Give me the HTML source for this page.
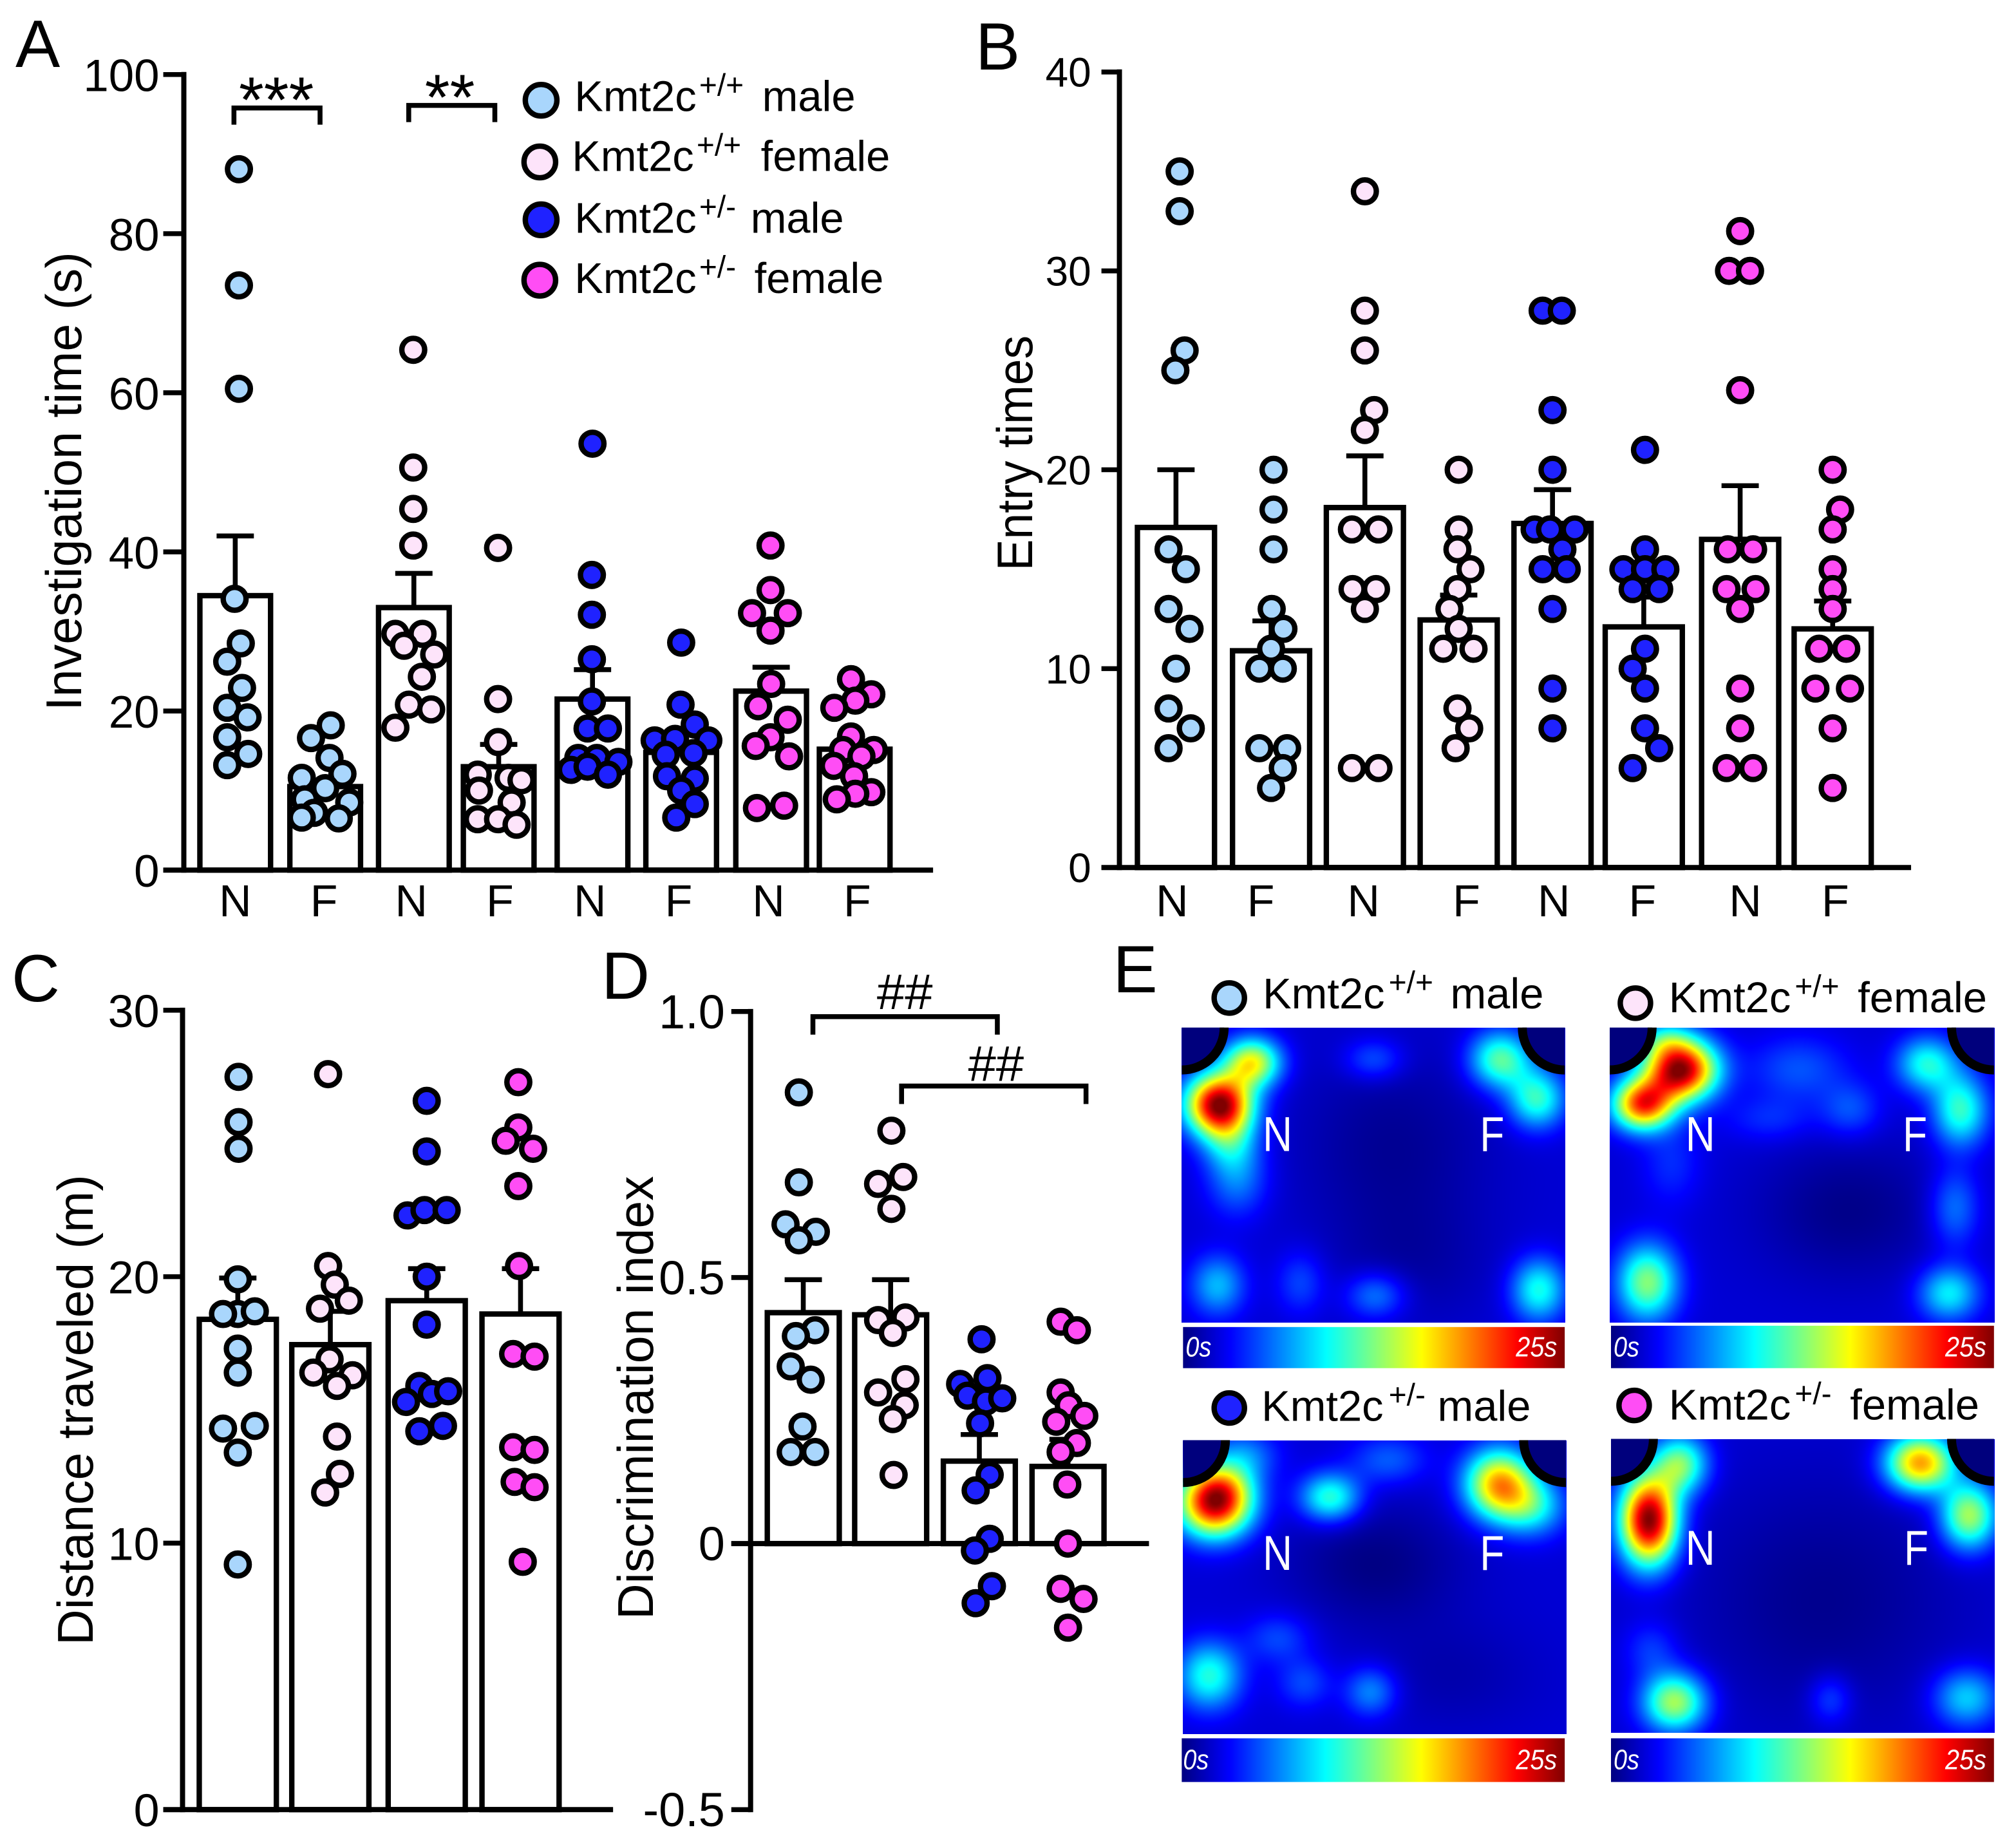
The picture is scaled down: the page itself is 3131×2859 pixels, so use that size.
<!DOCTYPE html>
<html lang="en">
<head>
<meta charset="utf-8">
<title>Kmt2c social novelty figure</title>
<style>
html,body{margin:0;padding:0;background:#fff;}
#figure{position:relative;width:3131px;height:2859px;overflow:hidden;background:#fff;}
#figure canvas{position:absolute;display:block;}
#figure svg{position:absolute;left:0;top:0;}
text{font-family:"Liberation Sans",Arial,sans-serif;fill:#000;}
</style>
</head>
<body>
<div id="figure">
<canvas id="map0" width="596" height="458" style="left:1835px;top:1596px"></canvas>
<canvas id="map1" width="598" height="458" style="left:2500px;top:1596px"></canvas>
<canvas id="map2" width="596" height="456" style="left:1837px;top:2237px"></canvas>
<canvas id="map3" width="596" height="456" style="left:2502px;top:2235px"></canvas>

<svg id="chart" width="3131" height="2859" viewBox="0 0 1568.6 1432.4" xmlns="http://www.w3.org/2000/svg">
<defs>
<linearGradient id="jet" x1="0" x2="1" y1="0" y2="0">
<stop offset="0" stop-color="#000080"/><stop offset="0.125" stop-color="#0000ff"/><stop offset="0.375" stop-color="#00ffff"/><stop offset="0.625" stop-color="#ffff00"/><stop offset="0.875" stop-color="#ff0000"/><stop offset="1" stop-color="#800000"/>
</linearGradient>
</defs>

<g id="panelA"></g>
<g id="panelB"></g>
<g id="panelC"></g>
<g id="panelD"></g>
<g id="arcs" transform="translate(1.5,1.5)"></g>

<g font-size="52">
<text x="12" y="52">A</text>
<text x="759" y="54">B</text>
<text x="9" y="779">C</text>
<text x="468" y="777">D</text>
<text x="866" y="772">E</text>
</g>

<g font-size="39">
<text transform="translate(63,553) rotate(-90)" textLength="357" lengthAdjust="spacingAndGlyphs">Investigation time (s)</text>
<text transform="translate(803,444) rotate(-90)" textLength="183" lengthAdjust="spacingAndGlyphs">Entry times</text>
<text transform="translate(72,1280) rotate(-90)" textLength="366" lengthAdjust="spacingAndGlyphs">Distance traveled (m)</text>
<text transform="translate(508,1260) rotate(-90)" textLength="345" lengthAdjust="spacingAndGlyphs">Discrimination index</text>
</g>

<g fill="none" stroke="#000" stroke-width="3.8">
<path d="M182 97V84H249V97"/>
<path d="M318 95V82H385V95"/>
<path d="M632.5 805V791H776V805"/>
<path d="M701.5 859V845H845V859"/>
</g>
<g text-anchor="middle">
<text x="215" y="95" font-size="50">***</text>
<text x="350" y="93" font-size="50">**</text>
<text x="704" y="785" font-size="39">##</text>
<text x="775" y="841" font-size="39">##</text>
</g>

<g font-size="33.5">
<g>
<circle cx="421" cy="78" r="12.3" fill="#a9d6fc" stroke="#000" stroke-width="4.2"/>
<text y="86.5"><tspan x="447">Kmt2c</tspan><tspan x="544" y="74.5" font-size="24">+/+</tspan><tspan x="593" y="86.5">male</tspan></text>
</g>
<g>
<circle cx="420" cy="126" r="12.3" fill="#fde4fa" stroke="#000" stroke-width="4.2"/>
<text y="133"><tspan x="445">Kmt2c</tspan><tspan x="542" y="121" font-size="24">+/+</tspan><tspan x="592" y="133">female</tspan></text>
</g>
<g>
<circle cx="421" cy="171" r="12.3" fill="#1f22ff" stroke="#000" stroke-width="4.2"/>
<text y="181"><tspan x="447">Kmt2c</tspan><tspan x="544" y="169" font-size="24">+/-</tspan><tspan x="584" y="181">male</tspan></text>
</g>
<g>
<circle cx="420" cy="218" r="12.3" fill="#ff4df5" stroke="#000" stroke-width="4.2"/>
<text y="228"><tspan x="447">Kmt2c</tspan><tspan x="544" y="216" font-size="24">+/-</tspan><tspan x="587" y="228">female</tspan></text>
</g>
</g>

<g font-size="33.5" transform="translate(1.5,1.5)">
<g>
<circle cx="955" cy="775" r="11.8" fill="#a9d6fc" stroke="#000" stroke-width="4.2"/>
<text><tspan x="981" y="783">Kmt2c</tspan><tspan x="1079" y="771" font-size="24">+/+</tspan><tspan x="1127" y="783">male</tspan></text>
</g>
<g>
<circle cx="1271" cy="779" r="11.8" fill="#fde4fa" stroke="#000" stroke-width="4.2"/>
<text><tspan x="1297" y="786">Kmt2c</tspan><tspan x="1395" y="774" font-size="24">+/+</tspan><tspan x="1444" y="786">female</tspan></text>
</g>
<g>
<circle cx="955" cy="1094" r="11.8" fill="#1f22ff" stroke="#000" stroke-width="4.2"/>
<text><tspan x="980" y="1104">Kmt2c</tspan><tspan x="1079" y="1092" font-size="24">+/-</tspan><tspan x="1117" y="1104">male</tspan></text>
</g>
<g>
<circle cx="1270" cy="1092" r="11.8" fill="#ff4df5" stroke="#000" stroke-width="4.2"/>
<text><tspan x="1297" y="1103">Kmt2c</tspan><tspan x="1395" y="1091" font-size="24">+/-</tspan><tspan x="1438" y="1103">female</tspan></text>
</g>
</g>

<g font-size="38" transform="translate(1.5,1.5)">
<text x="981" y="894" textLength="23" lengthAdjust="spacingAndGlyphs" style="fill:#fff">N</text>
<text x="1150" y="894" textLength="19" lengthAdjust="spacingAndGlyphs" style="fill:#fff">F</text>
<text x="1310" y="894" textLength="23" lengthAdjust="spacingAndGlyphs" style="fill:#fff">N</text>
<text x="1479" y="894" textLength="19" lengthAdjust="spacingAndGlyphs" style="fill:#fff">F</text>
<text x="981" y="1220" textLength="23" lengthAdjust="spacingAndGlyphs" style="fill:#fff">N</text>
<text x="1150" y="1220" textLength="19" lengthAdjust="spacingAndGlyphs" style="fill:#fff">F</text>
<text x="1310" y="1216" textLength="23" lengthAdjust="spacingAndGlyphs" style="fill:#fff">N</text>
<text x="1480" y="1216" textLength="19" lengthAdjust="spacingAndGlyphs" style="fill:#fff">F</text>
</g>

<g transform="translate(1.5,1.5)">
<rect x="919" y="1031" width="297" height="32" fill="url(#jet)"/>
<rect x="1252" y="1030" width="298" height="33" fill="url(#jet)"/>
<rect x="918" y="1351" width="298" height="34" fill="url(#jet)"/>
<rect x="1252" y="1351" width="298" height="34" fill="url(#jet)"/>
<g font-size="22" font-style="italic">
<text x="921" y="1054" textLength="20" lengthAdjust="spacingAndGlyphs" style="fill:#fff">0s</text>
<text x="1178" y="1054" textLength="32" lengthAdjust="spacingAndGlyphs" style="fill:#fff">25s</text>
<text x="1254" y="1054" textLength="20" lengthAdjust="spacingAndGlyphs" style="fill:#fff">0s</text>
<text x="1512" y="1054" textLength="32" lengthAdjust="spacingAndGlyphs" style="fill:#fff">25s</text>
<text x="919" y="1375" textLength="20" lengthAdjust="spacingAndGlyphs" style="fill:#fff">0s</text>
<text x="1178" y="1375" textLength="32" lengthAdjust="spacingAndGlyphs" style="fill:#fff">25s</text>
<text x="1254" y="1375" textLength="20" lengthAdjust="spacingAndGlyphs" style="fill:#fff">0s</text>
<text x="1512" y="1375" textLength="32" lengthAdjust="spacingAndGlyphs" style="fill:#fff">25s</text>
</g>
</g>
</svg>
</div>

<script>
/* ---------- Panel A: investigation time ---------- */
const panelACategories = ['N','F','N','F','N','F','N','F'];
const panelATicks = [0,20,40,60,80,100];
const panelAMeans = [34.5,10.5,33,13,21.5,14.8,22.5,15.2];
const panelASem = [42,10.5,37.3,15.8,25.2,14.8,25.5,15.2];
const panelAValues = [
  [88.1,73.5,60.5,34.1,28.5,26.2,22.9,20.4,19.2,16.7,14.6,13.2],
  [18.2,16.6,14.1,12.1,11.6,10.3,8.5,8.9,7.2,6.6,6.5],
  [65.4,50.6,45.4,40.8,29.7,29.7,28.2,27.1,24.3,20.8,20.2,17.9],
  [40.5,21.5,16.1,12,11.6,11.3,10,8.5,6.4,6.4,5.7],
  [53.6,37.1,32.1,26.5,21.2,17.8,17.8,14.1,14.1,13.6,12.6,13,12],
  [28.6,20.8,18.3,16.3,16.3,16.5,14.7,14.5,11.8,11.5,10,8.3,6.6],
  [40.8,35.2,32.3,32.3,30.1,23.4,20.6,18.9,16.7,15.6,14.3,7.8,8.1],
  [24,22.1,21.3,20.4,16.8,15.1,15.1,14.3,13.1,11.8,9.8,9.6,8.9]
];
const panelASwarm = [
  [6,6,6,-1,9,-13,11,-13,20,-13,21,-13],
  [9,-23,7,28,-38,0,39,-33,-18,-38,22],
  [-1,-1,-1,-1,-30,14,-16,33,13,-8,28,-30],
  [-1,-1,-1,-34,16,37,-32,21,-34,-1,29],
  [0,-1,-1,-1,-1,-8,25,-23,7,42,-35,-8,25],
  [0,-1,22,44,-43,-10,20,-25,-23,22,0,22,-8],
  [-1,-1,-31,27,-1,0,-21,27,-1,-25,29,-23,21],
  [-6,27,1,-33,-6,-19,31,11,-34,-1,27,1,-29]
];

/* ---------- Panel B: entry times ---------- */
const panelBCategories = ['N','F','N','F','N','F','N','F'];
const panelBTicks = [0,10,20,30,40];
const panelBMeans = [17.1,10.9,18.1,12.45,17.3,12.1,16.5,12];
const panelBSem = [20,12.4,20.7,13.7,19,13.6,19.2,13.4];
const panelBValues = [
  [35,33,26,25,16,15,13,12,10,8,7,6],
  [20,18,16,13,12,11,10,10,6,6,5,4],
  [34,28,26,23,22,17,17,14,14,13,5,5],
  [20,17,16,15,14,13,12,11,11,8,7,6],
  [28,28,23,20,17,17,17,16,15,15,13,9,7],
  [21,16,15,15,15,14,14,11,10,9,7,6,5],
  [32,30,30,24,16,16,14,14,13,9,7,5,5],
  [20,18,17,15,14,13,11,11,9,9,7,4]
];
const panelBSwarm = [
  [6,6,14,-1,-12,16,-12,22,0,-12,24,-12],
  [4,4,4,1,20,0,-19,19,-19,26,19,0],
  [0,0,0,15,0,-21,22,-20,18,0,-21,22],
  [0,0,-2,19,-2,-15,0,-25,24,-2,17,-5],
  [-16,15,0,0,-29,-4,36,16,-16,23,0,0,0],
  [2,2,-33,2,35,-18,25,2,-18,2,2,25,-18],
  [0,-18,16,0,-20,21,-22,25,0,0,0,-22,21],
  [0,12,0,0,0,0,-22,22,-28,28,0,0]
];

/* ---------- Panel C: distance traveled ---------- */
const panelCTicks = [0,10,20,30];
const panelCMeans = [18.4,17.45,19.1,18.6];
const panelCSem = [19.95,18.7,20.3,20.3];
const panelCValues = [
  [27.5,25.8,24.8,19.9,18.6,18.7,18.6,17.3,16.4,14.3,14.4,13.4,9.2],
  [27.6,20.4,19.7,19.1,18.8,16.9,16.4,16.3,15.9,14,12.6,11.9],
  [26.6,24.7,22.3,22.5,22.5,20,18.2,15.9,15.3,15.6,15.7,14.2,14.4],
  [27.3,25.6,25.1,24.8,23.4,20.4,17.1,17,13.6,13.5,12.3,12.1,9.3]
];
const panelCSwarm = [
  [1,1,1,0,0,23,-20,0,0,-20,23,0,0],
  [-3,-3,6,25,-14,-1,-23,30,9,9,13,-7],
  [0,0,-26,-3,27,0,0,-10,-28,7,29,-10,22],
  [-3,-3,-20,17,-3,-2,-10,19,-10,19,-8,19,3]
];

/* ---------- Panel D: discrimination index ---------- */
const panelDTicks = [-0.5,0,0.5,1];
const panelDTickLabels = ['-0.5','0','0.5','1.0'];
const panelDMeans = [0.434,0.43,0.155,0.145];
const panelDSem = [0.496,0.496,0.205,0.196];
const panelDValues = [
  [0.848,0.679,0.6,0.586,0.57,0.401,0.39,0.333,0.308,0.22,0.172,0.172],
  [0.776,0.689,0.676,0.629,0.425,0.42,0.396,0.309,0.284,0.26,0.234,0.129],
  [0.384,0.3,0.311,0.278,0.267,0.273,0.226,0.129,0.1,0.009,-0.013,-0.08,-0.112],
  [0.417,0.401,0.284,0.26,0.24,0.229,0.189,0.172,0.111,0,-0.085,-0.104,-0.158]
];
const panelDSwarm = [
  [-6,-6,-24,17,-6,16,-10,-17,10,-1,-17,16],
  [1,17,-17,1,20,-17,3,20,-17,19,3,4],
  [3,-26,11,-16,9,31,1,14,-5,14,-6,17,-5],
  [-10,12,-10,1,22,-16,12,-10,-1,0,-10,21,0]
];

/* ---------- Panel E: hotspots [u, v, spreadU, spreadV, peak] ---------- */
const mapWildtypeMale = [
  [0.097,0.259,0.06,0.072,0.9],[0.183,0.117,0.052,0.058,0.52],[0.145,0.51,0.055,0.09,0.16],[0.125,0.385,0.05,0.07,0.2],
  [0.83,0.107,0.056,0.068,0.38],[0.925,0.24,0.052,0.07,0.34],[0.5,0.107,0.055,0.05,0.13],
  [0.093,0.873,0.05,0.072,0.22],[0.31,0.863,0.045,0.075,0.11],[0.505,0.907,0.055,0.055,0.17],[0.93,0.888,0.05,0.075,0.31],
  [0.55,0.4,0.18,0.24,-0.065],[0.6,0.8,0.15,0.15,-0.04]
];
const mapWildtypeFemale = [
  [0.183,0.141,0.065,0.072,0.9],[0.085,0.259,0.055,0.06,0.72],[0.14,0.04,0.05,0.045,0.18],
  [0.823,0.122,0.055,0.065,0.31],[0.91,0.278,0.05,0.085,0.34],[0.49,0.14,0.09,0.08,0.12],[0.625,0.278,0.055,0.065,0.12],[0.415,0.31,0.08,0.055,0.08],
  [0.895,0.61,0.045,0.095,0.16],[0.097,0.863,0.055,0.09,0.42],[0.88,0.9,0.055,0.065,0.28],[0.16,0.46,0.055,0.1,0.08],
  [0.62,0.62,0.17,0.17,-0.075]
];
const mapHetMale = [
  [0.083,0.209,0.066,0.08,0.88],[0.11,0.15,0.05,0.05,0.1],[0.383,0.193,0.055,0.058,0.34],[0.534,0.066,0.07,0.06,0.13],
  [0.824,0.148,0.062,0.082,0.62],[0.91,0.224,0.06,0.07,0.27],[0.068,0.8,0.058,0.08,0.32],[0.248,0.672,0.06,0.06,0.11],
  [0.316,0.825,0.05,0.06,0.11],[0.489,0.855,0.048,0.06,0.18],[0.16,0.05,0.06,0.06,0.16],
  [0.5,0.42,0.16,0.15,-0.08],[0.7,0.8,0.16,0.14,-0.04]
];
const mapHetFemale = [
  [0.098,0.274,0.052,0.105,0.92],[0.18,0.085,0.05,0.07,0.4],[0.805,0.08,0.062,0.068,0.64],[0.932,0.259,0.052,0.08,0.46],
  [0.165,0.895,0.058,0.07,0.46],[0.571,0.885,0.04,0.06,0.12],[0.925,0.88,0.06,0.07,0.25],[0.105,0.717,0.05,0.07,0.1],
  [0.55,0.55,0.25,0.3,-0.07]
];
const mapBackground = 0.085;

/* ---------- Layout (pixel geometry lives here, not with the data) ---------- */
const NS = 'http://www.w3.org/2000/svg';
const lightBlue = '#a9d6fc', palePink = '#fde4fa', strongBlue = '#1f22ff', magenta = '#ff4df5';
const panelALayout = {root:'panelA',axisX:143,tickX:127,xEnd:726,yTopPx:58,yBottomPx:677,min:0,max:100,baseline:0,barWidth:55,capWidth:29,swarmStep:0.48,
  centers:[183,253,322,388,461,530,600,665],labelX:[183,252,320,389,459,528,598,667],tickFont:35.5,tickRight:124,tickShift:13,
  colors:[lightBlue,lightBlue,palePink,palePink,strongBlue,strongBlue,magenta,magenta]};
const panelBLayout = {root:'panelB',axisX:871,tickX:857,xEnd:1487,yTopPx:56,yBottomPx:675,min:0,max:40,baseline:0,barWidth:60,capWidth:29,swarmStep:0.48,
  centers:[915,989,1062,1135,1208,1279,1354,1426],labelX:[912,981,1061,1141,1209,1278,1358,1428],tickFont:32,tickRight:849,tickShift:11.5,
  colors:[lightBlue,lightBlue,palePink,palePink,strongBlue,strongBlue,magenta,magenta]};
const panelCLayout = {root:'panelC',axisX:142,tickX:127,xEnd:477,yTopPx:786,yBottomPx:1408,min:0,max:30,baseline:0,barWidth:60,capWidth:29,swarmStep:0.575,
  centers:[185,257,332,405],labelX:null,tickFont:36,tickRight:124,tickShift:13,
  colors:[lightBlue,palePink,strongBlue,magenta]};
const panelDLayout = {root:'panelD',axisX:584,tickX:569,xEnd:894,yTopPx:787,yBottomPx:1408,min:-0.5,max:1,baseline:0,barWidth:56,capWidth:29,swarmStep:0.575,
  centers:[625,693,762,831],labelX:null,tickFont:37,tickRight:564,tickShift:13,
  colors:[lightBlue,palePink,strongBlue,magenta]};

function svgEl(tag,parent){
  const e=document.createElementNS(NS,tag);
  parent.appendChild(e);
  return e;
}

function drawPanel(layout,categories,ticks,tickLabels,means,sem,values,swarm){
  const root=document.getElementById(layout.root);
  const yScale=v=>layout.yBottomPx-(v-layout.min)/(layout.max-layout.min)*(layout.yBottomPx-layout.yTopPx);
  const base=yScale(layout.baseline);

  means.forEach((m,i)=>{
    const cx=layout.centers[i];
    const bar=svgEl('rect',root);
    
    
    bar.setAttribute('x',cx-layout.barWidth/2);
    bar.setAttribute('width',layout.barWidth);
    bar.setAttribute('y',Math.min(yScale(m),base));
    bar.setAttribute('height',Math.abs(base-yScale(m)));
    bar.setAttribute('fill','#fff');
    bar.setAttribute('stroke','#000');
    bar.setAttribute('stroke-width','4.2');
  });
  sem.forEach((s,i)=>{
    if(s<=means[i]) return;
    const cx=layout.centers[i];
    const err=svgEl('path',root);
    
    
    err.setAttribute('d','M'+cx+' '+yScale(means[i])+'V'+yScale(s)+'M'+(cx-layout.capWidth/2)+' '+yScale(s)+'H'+(cx+layout.capWidth/2));
    err.setAttribute('fill','none');
    err.setAttribute('stroke','#000');
    err.setAttribute('stroke-width','3.8');
  });

  const xAxis=svgEl('line',root);
  
  
  xAxis.setAttribute('x1',layout.tickX);
  xAxis.setAttribute('x2',layout.xEnd);
  xAxis.setAttribute('y1',base);
  xAxis.setAttribute('y2',base);
  xAxis.setAttribute('stroke','#000');
  xAxis.setAttribute('stroke-width','4');

  const yAxis=svgEl('line',root);
  
  
  yAxis.setAttribute('x1',layout.axisX);
  yAxis.setAttribute('x2',layout.axisX);
  yAxis.setAttribute('y1',layout.yTopPx-2);
  yAxis.setAttribute('y2',layout.yBottomPx+2);
  yAxis.setAttribute('stroke','#000');
  yAxis.setAttribute('stroke-width','4');

  ticks.forEach((t,i)=>{
    const tick=svgEl('line',root);
    
    
    tick.setAttribute('x1',layout.tickX);
    tick.setAttribute('x2',layout.axisX);
    tick.setAttribute('y1',yScale(t));
    tick.setAttribute('y2',yScale(t));
    tick.setAttribute('stroke','#000');
    tick.setAttribute('stroke-width','3.8');
    const label=svgEl('text',root);
    
    
    label.setAttribute('x',layout.tickRight);
    label.setAttribute('y',yScale(t)+layout.tickShift);
    label.setAttribute('text-anchor','end');
    label.setAttribute('font-size',layout.tickFont);
    label.textContent=tickLabels[i];
  });

  if(categories){
    categories.forEach((c,i)=>{
      const label=svgEl('text',root);
      
      
      label.setAttribute('x',layout.labelX[i]);
      label.setAttribute('y',713);
      label.setAttribute('text-anchor','middle');
      label.setAttribute('font-size',35);
      label.textContent=c;
    });
  }

  values.forEach((group,i)=>{
    group.forEach((v,j)=>{
      const dot=svgEl('circle',root);
      
      
      dot.setAttribute('cx',layout.centers[i]+swarm[i][j]*layout.swarmStep);
      dot.setAttribute('cy',yScale(v));
      dot.setAttribute('r','8.9');
      dot.setAttribute('fill',layout.colors[i]);
      dot.setAttribute('stroke','#000');
      dot.setAttribute('stroke-width','4.2');
    });
  });
}

drawPanel(panelALayout,panelACategories,panelATicks,panelATicks,panelAMeans,panelASem,panelAValues,panelASwarm);
drawPanel(panelBLayout,panelBCategories,panelBTicks,panelBTicks,panelBMeans,panelBSem,panelBValues,panelBSwarm);
drawPanel(panelCLayout,null,panelCTicks,panelCTicks,panelCMeans,panelCSem,panelCValues,panelCSwarm);
drawPanel(panelDLayout,null,panelDTicks,panelDTickLabels,panelDMeans,panelDSem,panelDValues,panelDSwarm);

/* ---------- Heatmaps ---------- */
function jet(t){
  t=Math.max(0,Math.min(1,t));
  const ramp=c=>Math.max(0,Math.min(1,1.5-Math.abs(4*t-c)));
  return [ramp(3)*255,ramp(2)*255,ramp(1)*255];
}
function drawMap(id,hotspots){
  const canvas=document.getElementById(id);
  const ctx=canvas.getContext('2d');
  const w=canvas.width,h=canvas.height;
  const img=ctx.createImageData(w,h);
  for(let py=0;py<h;py++){
    for(let px=0;px<w;px++){
      const u=px/w,v=py/h;
      let t=mapBackground;
      for(const s of hotspots){
        const du=(u-s[0])/s[2],dv=(v-s[1])/s[3];
        t+=s[4]*Math.exp(-0.5*(du*du+dv*dv));
      }
      const c=jet(t);
      const k=(py*w+px)*4;
      img.data[k]=c[0];img.data[k+1]=c[1];img.data[k+2]=c[2];img.data[k+3]=255;
    }
  }
  ctx.putImageData(img,0,0);
}
drawMap('map0',mapWildtypeMale);
drawMap('map1',mapWildtypeFemale);
drawMap('map2',mapHetMale);
drawMap('map3',mapHetFemale);

/* ---------- Chamber corner arcs ---------- */
const arcsRoot=document.getElementById('arcs');
const arenaBoxes=[[918,798,1216,1027],[1251,798,1550,1027],[919,1119,1217,1347],[1252,1118,1550,1346]];
const arcRadius=33;
arenaBoxes.forEach(box=>{
  [[box[0],1],[box[2],-1]].forEach(corner=>{
    const cx=corner[0],dir=corner[1],top=box[1];
    const sweep=dir>0?1:0;
    const arcPath='M'+(cx+dir*arcRadius)+' '+top+'A'+arcRadius+' '+arcRadius+' 0 0 '+sweep+' '+cx+' '+(top+arcRadius);
    const fillPath=svgEl('path',arcsRoot);
    
    
    fillPath.setAttribute('d','M'+cx+' '+top+'L'+(cx+dir*arcRadius)+' '+top+'A'+arcRadius+' '+arcRadius+' 0 0 '+sweep+' '+cx+' '+(top+arcRadius)+'Z');
    fillPath.setAttribute('fill','#00007d');
    const arc=svgEl('path',arcsRoot);
    
    
    arc.setAttribute('d',arcPath);
    arc.setAttribute('fill','none');
    arc.setAttribute('stroke','#000');
    arc.setAttribute('stroke-width','7');
  });
});
</script>
</body>
</html>
